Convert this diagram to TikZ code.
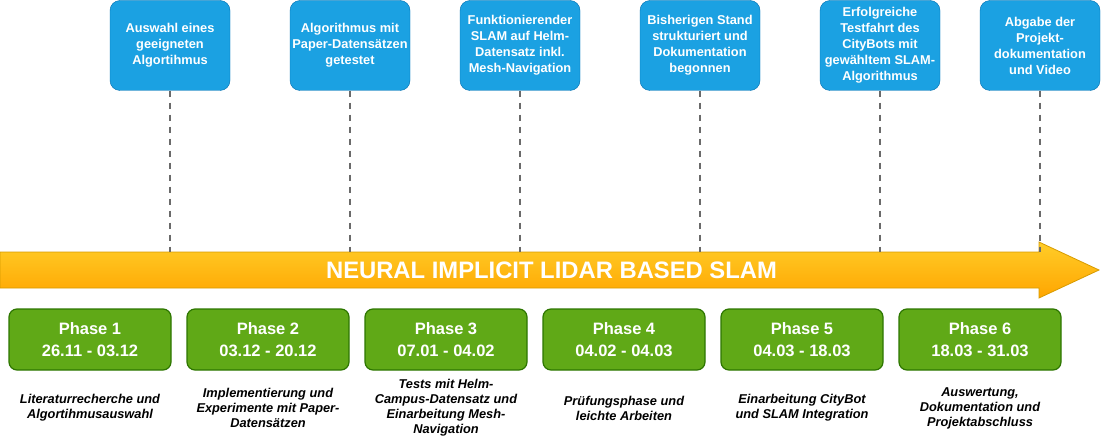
\documentclass[tikz,border=0pt]{standalone}
\usepackage{fontspec}
\setmainfont{Liberation Sans}
\definecolor{bluefill}{HTML}{1BA1E2}
\definecolor{bluedraw}{HTML}{006EAF}
\definecolor{greenfill}{HTML}{60A917}
\definecolor{greendraw}{HTML}{2D7600}
\definecolor{arrtop}{HTML}{FFCD28}
\definecolor{arrbot}{HTML}{FFA500}
\definecolor{arrdraw}{HTML}{D79B00}
\definecolor{dashgray}{HTML}{6A6A6A}
\begin{document}
\begin{tikzpicture}[x=1pt,y=-1pt,
 milestone/.style={draw=bluedraw, fill=bluefill, rounded corners=10pt, minimum width=120pt, minimum height=90pt, inner sep=0pt, align=center, text=white, font=\fontsize{12.8}{16}\selectfont\bfseries},
 phase/.style={draw=greendraw, fill=greenfill, rounded corners=8pt, minimum width=162pt, minimum height=61pt, inner sep=0pt, align=center, text=white, font=\fontsize{16.5}{22}\selectfont\bfseries, line width=1.2pt},
 desc/.style={align=center, font=\fontsize{12.8}{15}\selectfont\bfseries\itshape, inner sep=0pt},
 guide/.style={draw=dashgray, line width=1.6pt, dash pattern=on 6pt off 6pt},
 timeline/.style={draw=arrdraw, top color=arrtop, bottom color=arrbot, line width=0.8pt},
 titletext/.style={text=white, font=\fontsize{23.8}{28}\selectfont\bfseries, inner sep=0pt}
]
\useasboundingbox (0,0) rectangle (1101,441);

% timeline arrow
\path[timeline] (0,252) -- (1039,252) -- (1039,242) -- (1099,270) -- (1039,298) -- (1039,288) -- (0,288) -- cycle;
\node[titletext] (title) at (551.5,270) {NEURAL IMPLICIT LIDAR BASED SLAM};

% milestones
\node[milestone] (m1) at (170,45.5) {Auswahl eines\\geeigneten\\Algortihmus};
\node[milestone] (m2) at (350,45.5) {Algorithmus mit\\Paper-Datensätzen\\getestet};
\node[milestone] (m3) at (520,45.5) {Funktionierender\\SLAM auf Helm-\\Datensatz inkl.\\Mesh-Navigation};
\node[milestone] (m4) at (700,45.5) {Bisherigen Stand\\strukturiert und\\Dokumentation\\begonnen};
\node[milestone] (m5) at (880,45.5) {Erfolgreiche\\Testfahrt des\\CityBots mit\\gewähltem SLAM-\\Algorithmus};
\node[milestone] (m6) at (1040,45.5) {Abgabe der\\Projekt-\\dokumentation\\und Video};

\coordinate (t1) at (170,252);
\coordinate (t2) at (350,252);
\coordinate (t3) at (520,252);
\coordinate (t4) at (700,252);
\coordinate (t5) at (880,252);
\coordinate (t6) at (1040,252);
\foreach \i in {1,...,6} {\draw[guide] (m\i.south) -- (t\i);}

% phases
\node[phase] (p1) at (90,339.5) {Phase 1\\26.11 - 03.12};
\node[phase] (p2) at (268,339.5) {Phase 2\\03.12 - 20.12};
\node[phase] (p3) at (446,339.5) {Phase 3\\07.01 - 04.02};
\node[phase] (p4) at (624,339.5) {Phase 4\\04.02 - 04.03};
\node[phase] (p5) at (802,339.5) {Phase 5\\04.03 - 18.03};
\node[phase] (p6) at (980,339.5) {Phase 6\\18.03 - 31.03};

% descriptions
\node[desc] (d1) at (90,408) {Literaturrecherche und\\Algortihmusauswahl};
\node[desc] (d2) at (268,408) {Implementierung und\\Experimente mit Paper-\\Datensätzen};
\node[desc] (d3) at (446,408) {Tests mit Helm-\\Campus-Datensatz und\\Einarbeitung Mesh-\\Navigation};
\node[desc] (d4) at (624,408) {Prüfungsphase und\\leichte Arbeiten};
\node[desc] (d5) at (802,408) {Einarbeitung CityBot\\und SLAM Integration};
\node[desc] (d6) at (980,408) {Auswertung,\\Dokumentation und\\Projektabschluss};
\end{tikzpicture}
\end{document}
